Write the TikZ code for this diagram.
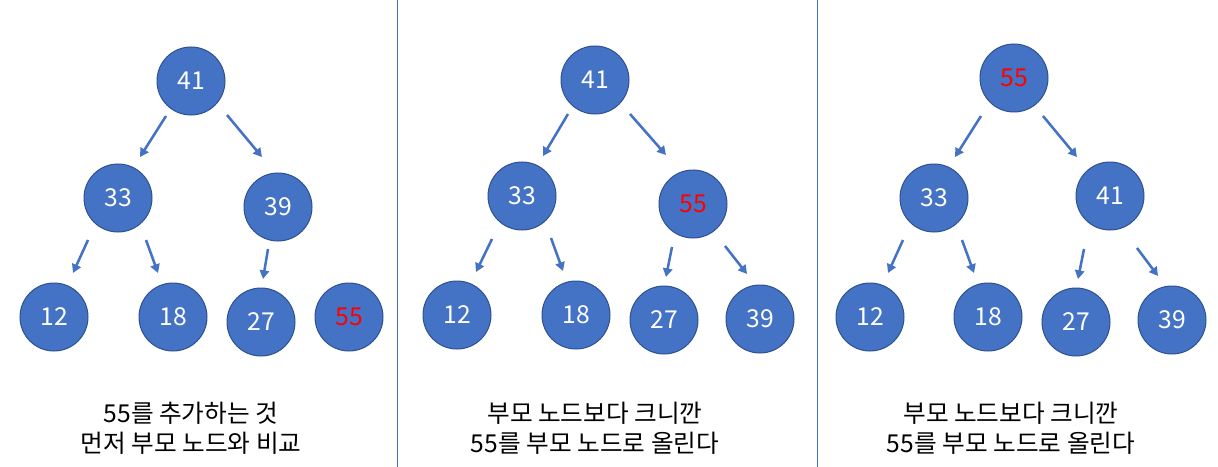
\documentclass[tikz,border=0pt]{standalone}
\usepackage{fontspec}
\setmainfont{Noto Sans CJK KR}
\usetikzlibrary{calc,arrows.meta}
\definecolor{nodeblue}{HTML}{4472C4}
\definecolor{nodeedge}{HTML}{2F528F}
\definecolor{hot}{HTML}{FF0000}
\newcommand\hedge[4]{\draw[arr] ($(#1)+(#2)$) -- ($(#3)+(#4)$);}
\begin{document}
\begin{tikzpicture}[x=0.75pt,y=-0.75pt,
  heapnode/.style={circle, fill=nodeblue, draw=nodeedge, line width=0.75pt,
    minimum size=51pt, inner sep=0pt, text=white, font=\fontsize{18.5}{20}\selectfont},
  newval/.style={text=hot},
  arr/.style={draw=nodeblue, line width=1.9pt, -{Triangle[length=6.5pt,width=7pt]}},
  divider/.style={draw=nodeblue, line width=0.75pt},
  caption/.style={align=center, font=\fontsize{18.5}{22.5}\selectfont, text=black}]
\useasboundingbox[fill=white] (0,0) rectangle (1218,467);

% dividers
\coordinate (d1t) at (397,0);   \coordinate (d1b) at (397,467);
\coordinate (d2t) at (817,0);   \coordinate (d2b) at (817,467);
\draw[divider] (d1t) -- (d1b);
\draw[divider] (d2t) -- (d2b);

% panel 1
\node[heapnode] (a41) at (191,81) {41};
\node[heapnode] (a33) at (118,198) {33};
\node[heapnode] (a39) at (278,207) {39};
\node[heapnode] (a12) at (54,317) {12};
\node[heapnode] (a18) at (173,317) {18};
\node[heapnode] (a27) at (261,322) {27};
\node[heapnode,newval] (a55) at (349,317) {55};
\hedge{a41}{-25,35}{a33}{22,-41}
\hedge{a41}{36,34}{a39}{-16,-50}
\hedge{a33}{-30,42}{a12}{19,-44}
\hedge{a33}{28,42}{a18}{-15,-44}
\hedge{a39}{-10,42}{a27}{2,-43}
\node[caption] (cap1) at (191,428) {55를 추가하는 것\\먼저 부모 노드와 비교};

% panel 2
\node[heapnode] (b41) at (595,80) {41};
\node[heapnode] (b33) at (522,196) {33};
\node[heapnode,newval] (b55) at (693,204) {55};
\node[heapnode] (b12) at (457,315) {12};
\node[heapnode] (b18) at (576,315) {18};
\node[heapnode] (b27) at (664,320) {27};
\node[heapnode] (b39) at (760,319) {39};
\hedge{b41}{-27,34}{b33}{21,-40}
\hedge{b41}{35,34}{b55}{-27,-49}
\hedge{b33}{-30,43}{b12}{19,-43}
\hedge{b33}{29,42}{b18}{-13,-44}
\hedge{b55}{-21,43}{b27}{2,-43}
\hedge{b55}{32,42}{b39}{-13,-45}
\node[caption] (cap2) at (595,428) {부모 노드보다 크니깐\\55를 부모 노드로 올린다};

% panel 3
\node[heapnode,newval] (c55) at (1014,78) {55};
\node[heapnode] (c33) at (934,198) {33};
\node[heapnode] (c41) at (1110,196) {41};
\node[heapnode] (c12) at (870,317) {12};
\node[heapnode] (c18) at (988,317) {18};
\node[heapnode] (c27) at (1076,322) {27};
\node[heapnode] (c39) at (1172,320) {39};
\hedge{c55}{-33,38}{c33}{21,-41}
\hedge{c55}{29,38}{c41}{-33,-39}
\hedge{c33}{-31,42}{c12}{18,-44}
\hedge{c33}{28,42}{c18}{-14,-44}
\hedge{c41}{-26,53}{c27}{2,-43}
\hedge{c41}{27,52}{c39}{-14,-44}
\node[caption] (cap3) at (1011,428) {부모 노드보다 크니깐\\55를 부모 노드로 올린다};
\end{tikzpicture}
\end{document}
